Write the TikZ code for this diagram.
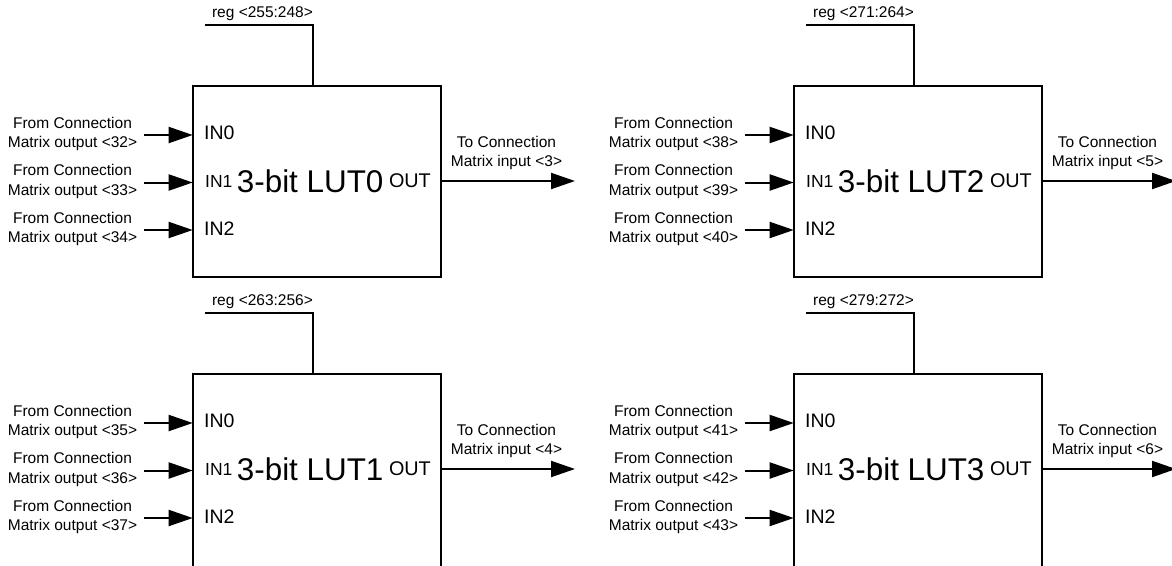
\documentclass[tikz,border=0pt]{standalone}
\usepackage{fontspec}
\setmainfont{Liberation Sans}
\usetikzlibrary{arrows.meta,calc}
\tikzset{
  lutbox/.style={draw, line width=2pt, minimum width=248.3pt, outer sep=0pt, inner sep=0pt, anchor=north west},
  lbl/.style={align=center, inner sep=0pt, font=\fontsize{15.5pt}{19.3pt}\selectfont},
  pinbig/.style={inner sep=0pt, anchor=west, font=\fontsize{19.5pt}{20pt}\selectfont},
  pinsmall/.style={inner sep=0pt, anchor=west, font=\fontsize{17.5pt}{18pt}\selectfont},
  pinout/.style={inner sep=0pt, anchor=east, font=\fontsize{19.8pt}{20pt}\selectfont},
  luttitle/.style={inner sep=0pt, anchor=west, font=\fontsize{31.4pt}{32pt}\selectfont},
  conn/.style={line width=2pt},
  arr/.style={conn, -{Triangle[length=24pt,width=16pt]}},
}
\newcommand\lutblock[9]{%
  % #1 dx, #2 dy, #3 id, #4-#6 inputs, #7 output, #8 reg, #9 box height
  \node[lutbox, minimum height=#9pt] (box#3) at (#1+192.7, #2+86) {};
  \node[pinbig]   (ia#3) at (#1+204, #2+133) {IN0};
  \node[pinsmall] (ib#3) at (#1+205, #2+181) {IN1};
  \node[pinbig]   (ic#3) at (#1+204, #2+228.3) {IN2};
  \node[luttitle] (tt#3) at (#1+236.7, #2+181) {3-bit LUT#3};
  \node[pinout]   (oo#3) at (#1+431, #2+181) {OUT};
  \node[lbl] (la#3) at (#1+72.5, #2+134) {From Connection\\Matrix output <#4>};
  \node[lbl] (lb#3) at (#1+72.5, #2+181.5) {From Connection\\Matrix output <#5>};
  \node[lbl] (lc#3) at (#1+72.5, #2+229) {From Connection\\Matrix output <#6>};
  \draw[arr, shorten <=6.6pt] ([yshift=-1pt]la#3.east) -- ([yshift=-1pt]box#3.west |- la#3.east);
  \draw[arr, shorten <=6.6pt] ([yshift=-1pt]lb#3.east) -- ([yshift=-1pt]box#3.west |- lb#3.east);
  \draw[arr, shorten <=6.6pt] ([yshift=-1pt]lc#3.east) -- ([yshift=-1pt]box#3.west |- lc#3.east);
  \coordinate (oe#3) at (#1+575, #2+181);
  \draw[arr] (box#3.east |- oe#3) -- (oe#3);
  \node[lbl] (ol#3) at (#1+506.5, #2+153) {To Connection\\Matrix input <#7>};
  \node[lbl] (rt#3) at (#1+262.5, #2+14) {reg <#8>};
  \coordinate (rs#3) at (#1+205, #2+25);
  \draw[conn] (rs#3) -| ([xshift=-4.15pt]box#3.north);
}
\begin{document}
\begin{tikzpicture}[x=1pt,y=-1pt]
  \useasboundingbox (0,0) rectangle (1172,565);
  \clip (0,0) rectangle (1172,565);
  \lutblock{0}{0}{0}{32}{33}{34}{3}{255:248}{190.7}
  \lutblock{0}{288}{1}{35}{36}{37}{4}{263:256}{200}
  \lutblock{601}{0}{2}{38}{39}{40}{5}{271:264}{190.7}
  \lutblock{601}{288}{3}{41}{42}{43}{6}{279:272}{200}
\end{tikzpicture}
\end{document}
